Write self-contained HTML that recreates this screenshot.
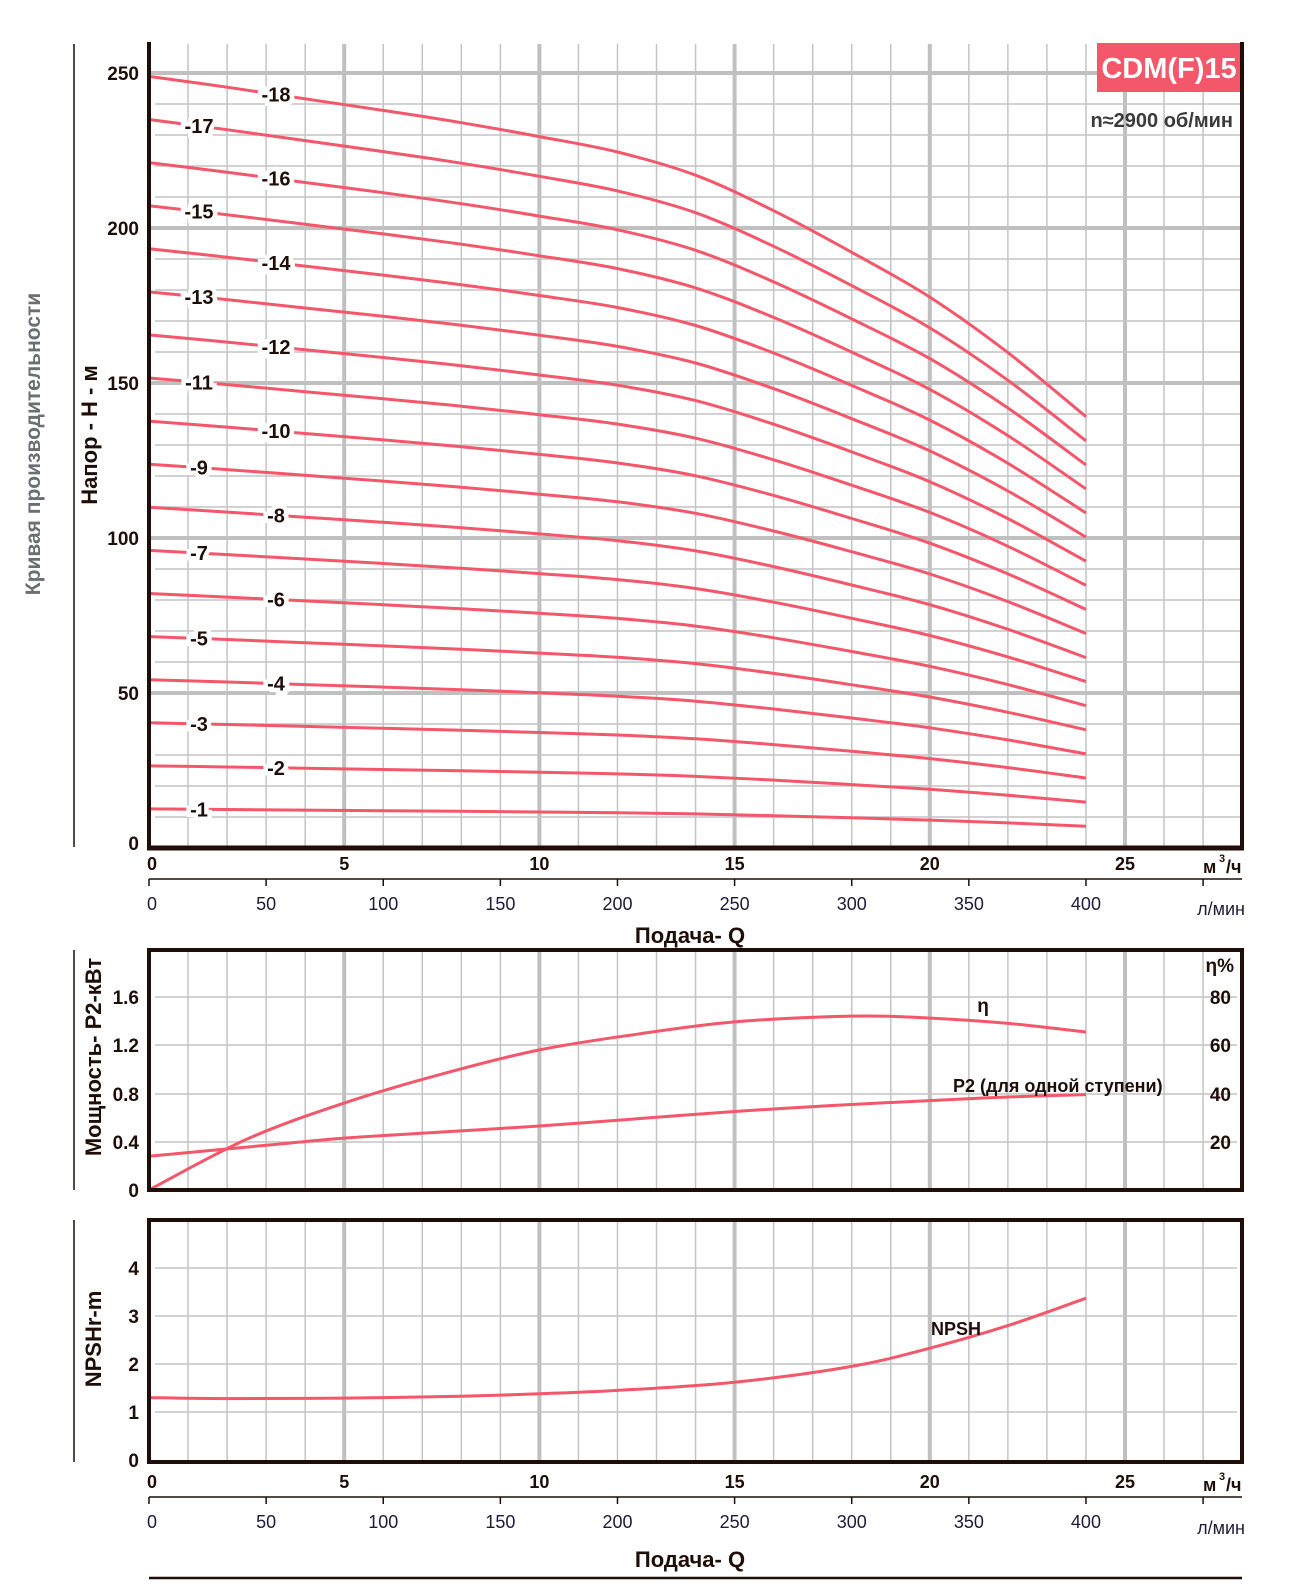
<!DOCTYPE html>
<html><head><meta charset="utf-8"><style>
html,body{margin:0;padding:0;background:#fff;width:1299px;height:1589px;overflow:hidden}
svg{display:block}
text{font-family:"Liberation Sans","DejaVu Sans",sans-serif}
</style></head><body>
<svg id="s" width="1299" height="1589" viewBox="0 0 1299 1589" xmlns="http://www.w3.org/2000/svg">
<g id="grid"></g>
<g id="curves" fill="none" stroke="#f4566a" stroke-width="3"></g>
<g id="axes"></g>
<g id="txt" font-weight="bold" fill="#1f0e08"></g>
</svg>
<script>
const NS="http://www.w3.org/2000/svg";
function el(p,t,a,txt){const e=document.createElementNS(NS,t);for(const k in a)e.setAttribute(k,a[k]);if(txt!==undefined)e.textContent=txt;document.getElementById(p).appendChild(e);return e;}
const X=q=>149+39.04*q;
function line(p,x1,y1,x2,y2,c,w){el(p,'line',{x1,y1,x2,y2,stroke:c,'stroke-width':w});}
function cr(pts){let d='M'+pts[0][0].toFixed(1)+','+pts[0][1].toFixed(1);
 for(let i=0;i<pts.length-1;i++){const p0=pts[i-1]||pts[i],p1=pts[i],p2=pts[i+1],p3=pts[i+2]||p2;
  const c1=[p1[0]+(p2[0]-p0[0])/6,p1[1]+(p2[1]-p0[1])/6],c2=[p2[0]-(p3[0]-p1[0])/6,p2[1]-(p3[1]-p1[1])/6];
  d+=' C'+c1.map(v=>v.toFixed(1))+' '+c2.map(v=>v.toFixed(1))+' '+p2.map(v=>v.toFixed(1));}
 return d;}
const GC='#c4c4c4',GM='#c0c0c0';
[[44,848],[952,1190],[1222,1460]].forEach(([a,b])=>{
 for(let q=1;q<28;q++){const maj=q%5==0;line('grid',X(q),a,X(q),b,maj?GM:GC,maj?4:1.5);}
});
const YT=h=>848-3.1*h;
for(let h=10;h<=250;h+=10){const maj=h%50==0;line('grid',maj?149:155,YT(h),1240,YT(h),maj?GM:GC,maj?4:1.5);}
[997,1045,1094,1142].forEach(y=>line('grid',155,y,1237,y,GC,1.5));
[1268,1316,1364,1412].forEach(y=>line('grid',155,y,1237,y,GC,1.5));
const K='#1f0e08';
line('axes',149,42,149,850,K,4);line('axes',147,848,1244,848,K,5);line('axes',1242,42,1242,850,K,4);
el('axes','rect',{x:149,y:950,width:1093,height:240,fill:'none',stroke:K,'stroke-width':4});
el('axes','rect',{x:149,y:1220,width:1093,height:242,fill:'none',stroke:K,'stroke-width':4});
line('axes',74,44,74,847,K,1.5);line('axes',74,950,74,1190,K,1.5);line('axes',74,1220,74,1462,K,1.5);
[[879,903,908],[1497,1521,1527]].forEach(([ly,lt,lm])=>{
 line('axes',149,ly,1242,ly,K,1.5);
 for(let l=0;l<=450;l+=50){const x=X(l*0.06);line('axes',x,ly,x,ly+7,K,1.5);
  if(l<=400)el('txt','text',{x:l==0?x+3:x,y:lt+7,'text-anchor':'middle','font-weight':'normal','font-size':18,fill:'#1f1a3a'},l);}
 el('txt','text',{x:1221,y:lm+7,'text-anchor':'middle','font-weight':'normal','font-size':18,fill:'#1f1a3a'},'л/мин');
});
[[863],[1481]].forEach(([y])=>{
 for(let q=0;q<=25;q+=5)el('txt','text',{x:q==0?X(0)+3:X(q),y:y+7,'text-anchor':'middle','font-size':18},q);
 el('txt','text',{x:1203,y:y+10,'font-size':18},'м');el('txt','text',{x:1219,y:y-1,'font-size':11},'3');el('txt','text',{x:1226,y:y+10,'font-size':18},'/ч');
});
el('txt','text',{x:690,y:943,'text-anchor':'middle','font-size':22},'Подача- Q');
el('txt','text',{x:690,y:1567,'text-anchor':'middle','font-size':22},'Подача- Q');
line('axes',149,1578,1242,1578,K,2.5);
for(let h=0;h<=250;h+=50)el('txt','text',{x:139,y:YT(h)+(h==0?2:7),'text-anchor':'end','font-size':19},h);
[['1.6',997],['1.2',1045],['0.8',1094],['0.4',1142],['0',1190]].forEach(([t,y])=>el('txt','text',{x:139,y:y+7,'text-anchor':'end','font-size':19},t));
[['80',997],['60',1045],['40',1094],['20',1142]].forEach(([t,y])=>el('txt','text',{x:1231,y:y+7,'text-anchor':'end','font-size':19},t));
el('txt','text',{x:1234,y:972,'text-anchor':'end','font-size':19},'η%');
[[4,1268],[3,1316],[2,1364],[1,1412],[0,1460]].forEach(([t,y])=>el('txt','text',{x:139,y:y+7,'text-anchor':'end','font-size':19},t));
el('txt','text',{x:0,y:0,transform:'translate(40,444) rotate(-90)','text-anchor':'middle','font-size':21,fill:'#6d6e71'},'Кривая производительности');
el('txt','text',{x:0,y:0,transform:'translate(97,435) rotate(-90)','text-anchor':'middle','font-size':22},'Напор - Н - м');
el('txt','text',{x:0,y:0,transform:'translate(101,1057) rotate(-90)','text-anchor':'middle','font-size':22},'Мощность- Р2-кВт');
el('txt','text',{x:0,y:0,transform:'translate(101,1339) rotate(-90)','text-anchor':'middle','font-size':22},'NPSHr-m');
el('txt','rect',{x:1097,y:43,width:143,height:49,fill:'#f4566a'});
el('txt','text',{x:1169,y:78,'text-anchor':'middle','font-size':29,fill:'#fff'},'CDM(F)15');
el('txt','text',{x:1233,y:127,'text-anchor':'end','font-size':20,fill:'#3b3b3b'},'n≈2900 об/мин');
const F=[1,.986,.971,.956,.94,.922,.902,.872,.826,.772,.714,.642,.559];
for(let n=1;n<=18;n++){const H0=13.9*n-1.3;const pts=F.map((f,i)=>[X(i*2),YT(H0*f)]);
 el('curves','path',{d:cr(pts)});
 const lx=n%2==0?276:199;const q=(lx-149)/39.04;const i=Math.floor(q/2),t=q/2-i;const f=F[i]+(F[i+1]-F[i])*t;
 el('txt','text',{x:lx,y:YT(H0*f)+7,'text-anchor':'middle','font-size':20,stroke:'#fff','stroke-width':9,'paint-order':'stroke'},'-'+n);
}
const eta=[[0,0],[2.5,21],[5,36],[7.5,48],[10,58],[12.5,64.5],[15,69.6],[18,72],[20,71.2],[22,69],[24,65.4]];
el('curves','path',{d:cr(eta.map(([q,e])=>[X(q),1190-e*2.415]))});
const p2=[[0,.28],[3,.37],[5,.43],[7.5,.48],[10,.53],[12.5,.59],[15,.65],[17.5,.7],[20,.74],[22,.77],[24,.79]];
el('curves','path',{d:cr(p2.map(([q,p])=>[X(q),1190-120.75*p]))});
const np=[[0,1.3],[2,1.28],[5,1.29],[8,1.33],[10,1.38],[12,1.45],[15,1.62],[18,1.95],[20,2.33],[22,2.8],[24,3.37]];
el('curves','path',{d:cr(np.map(([q,v])=>[X(q),1460-48*v]))});
el('txt','text',{x:983,y:1012,'text-anchor':'middle','font-size':19},'η');
el('txt','text',{x:953,y:1092,'font-size':18},'P2 (для одной ступени)');
el('txt','text',{x:931,y:1335,'font-size':18},'NPSH');
</script>
</body></html>
